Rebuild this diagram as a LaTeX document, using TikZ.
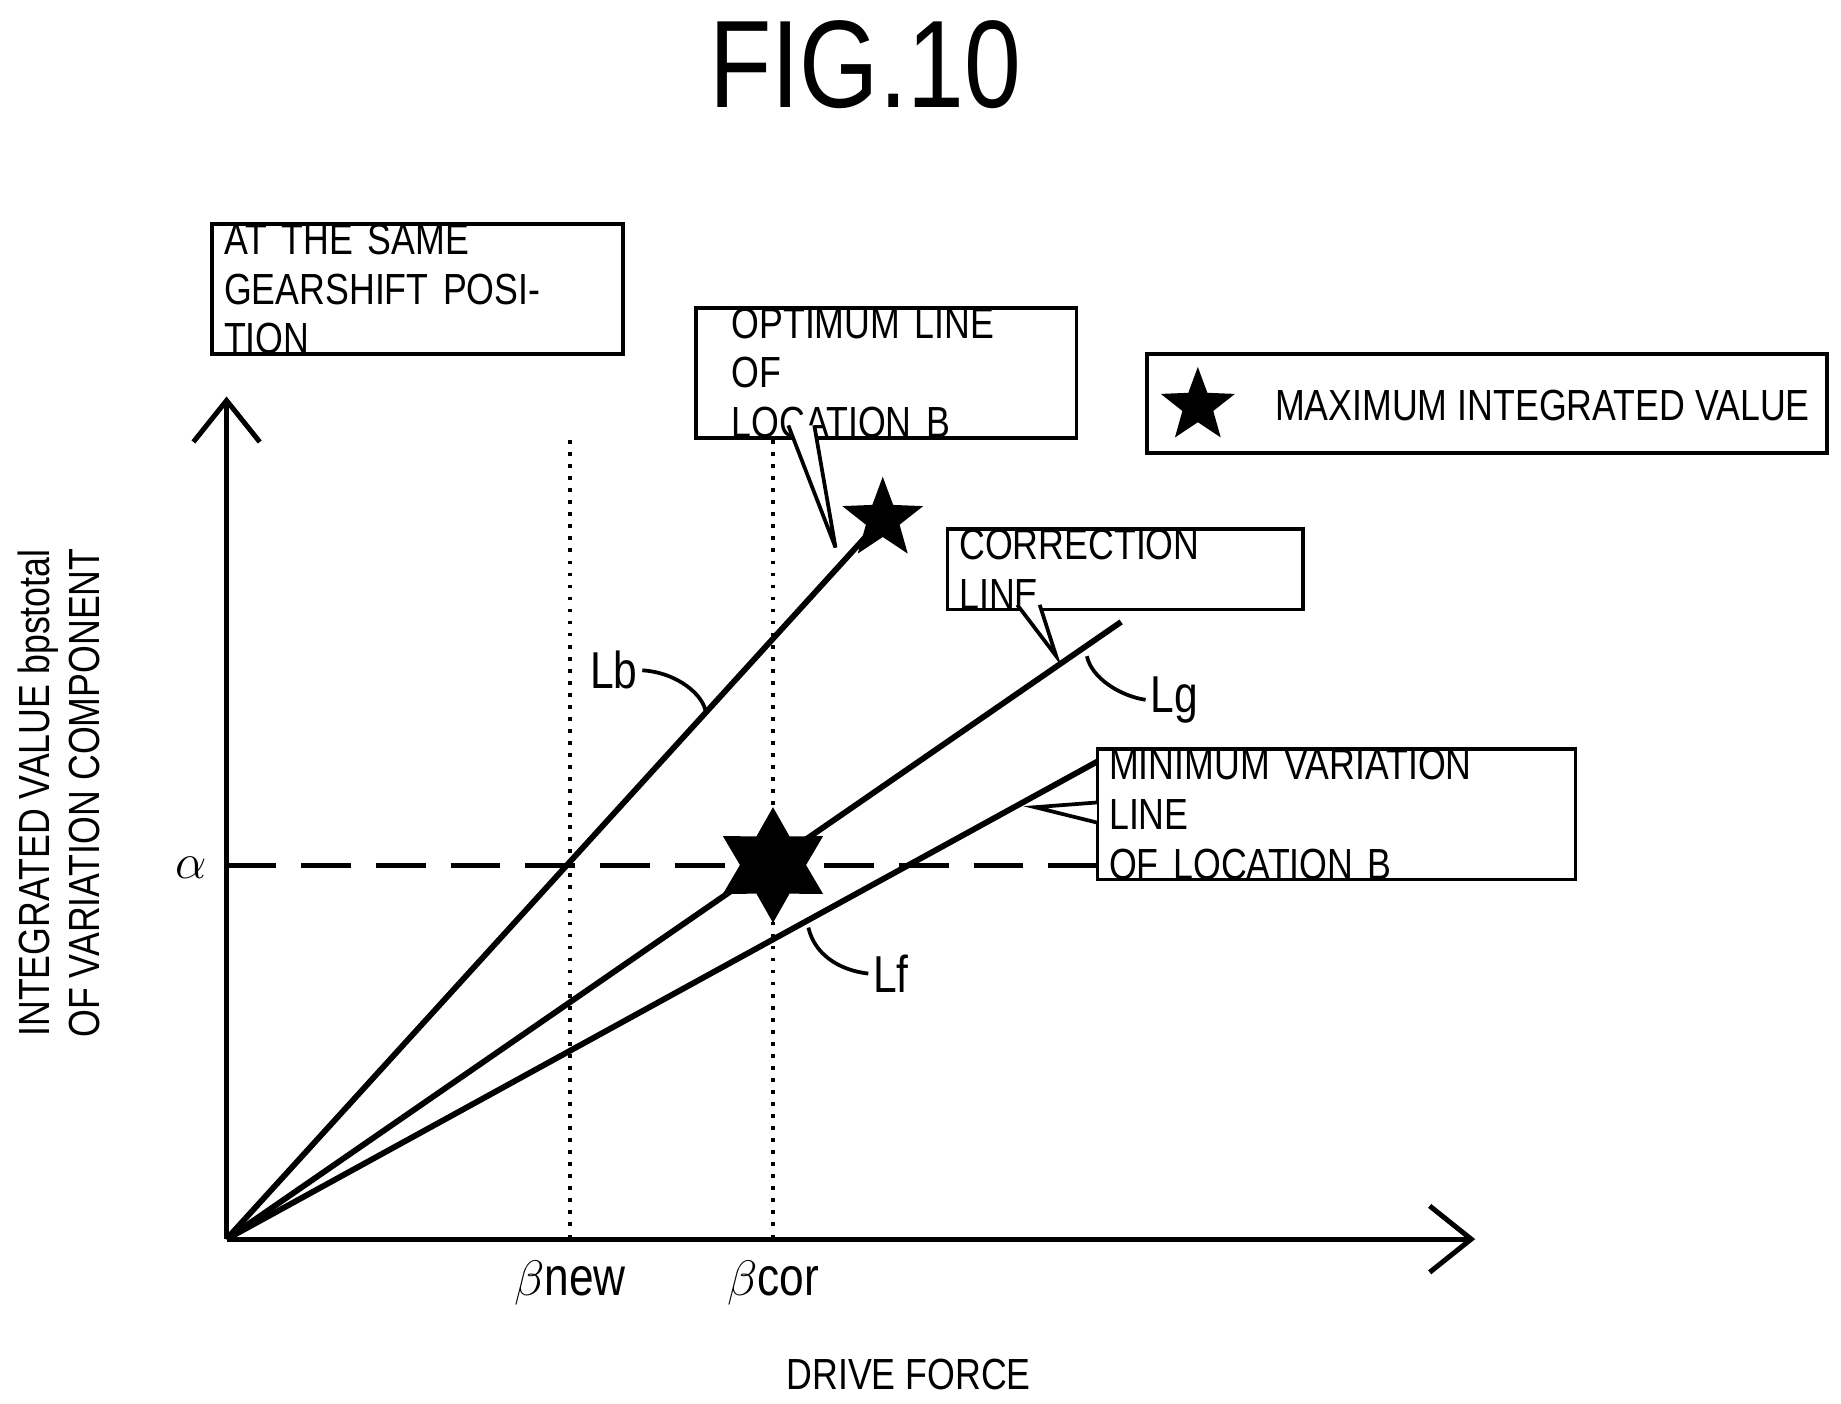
\documentclass[tikz,border=0pt]{standalone}
\usepackage{fontspec}
\setmainfont[FakeStretch=0.82]{Liberation Sans}
\usetikzlibrary{shapes.geometric,arrows.meta}

\begin{document}
\begin{tikzpicture}[x=0.01cm,y=-0.01cm,font=\fontsize{10.5}{12}\selectfont]
    \tikzstyle{callbox} = [rectangle, draw, line width=0.9pt, align=left, inner ysep=0pt, fill=white]
    \tikzstyle{curve} = [line width=1.4pt]
    \tikzstyle{tag} = [inner sep=1pt, font=\fontsize{12.5}{14}\selectfont]

    \useasboundingbox (0,0) rectangle (1560,1189);

    % Title
    \node (title) at (733,55) {\fontsize{30}{32}\selectfont FIG.10};

    % Axes
    \coordinate (O) at (192,1050);
    \draw[line width=1.2pt, -{Straight Barb[length=10pt,width=16pt]}] (O) -- (1250,1050);
    \draw[line width=1.2pt, -{Straight Barb[length=10pt,width=16pt]}] (O) -- (192,336);

    % Guides
    \draw[dotted, line width=0.9pt] (483,373) -- (483,1050);
    \draw[dotted, line width=0.9pt] (655,373) -- (655,1050);
    \draw[dashed, dash pattern=on 12pt off 6pt, line width=1.2pt] (O |- 0,733) -- (1097,733);

    % Lines
    \coordinate (LbEnd) at (738,450);
    \coordinate (LgEnd) at (950,527);
    \coordinate (LfEnd) at (945,637);
    \draw[curve] (O) -- (LbEnd);
    \draw[curve] (O) -- (LgEnd);
    \draw[curve] (O) -- (LfEnd);

    % Stars
    \node[star, star points=5, star point ratio=2.4, fill=black, minimum size=0.72cm, inner sep=0pt] (maxstar) at (748,440) {};
    \node[star, star points=6, star point ratio=1.75, fill=black, minimum size=0.98cm, inner sep=0pt] (corstar) at (655,733) {};

    % Line labels
    \node[tag] (Lb) at (520,568) {Lb};
    \draw[line width=0.9pt] (Lb.east) .. controls (575,570) and (597,590) .. (598,604);
    \node[tag] (Lg) at (995,593) {Lg};
    \draw[line width=0.9pt] (Lg.west) .. controls (950,590) and (925,575) .. (921,556);
    \node[tag] (Lf) at (755,825) {Lf};
    \draw[line width=0.9pt] (Lf.west) .. controls (710,822) and (690,808) .. (685,786);

    % Axis labels
    \node (alpha) at (162,735) {\fontsize{13}{14}\selectfont$\alpha$};
    \node (bnew) at (483,1087) {\fontsize{13}{14}\selectfont$\beta$new};
    \node (bcor) at (655,1087) {\fontsize{13}{14}\selectfont$\beta$cor};
    \node (xlabel) at (770,1165) {DRIVE FORCE};
    \node[rotate=90, align=center] (ylabel) at (50,672) {INTEGRATED VALUE bpstotal\\OF VARIATION COMPONENT};

    % Boxes
    \node[callbox, minimum width=3.48cm, text width=3.28cm, inner xsep=0.1cm, minimum height=0.76cm] (same) at (354,245)
        {AT THE SAME\\GEARSHIFT POSITION};
    \node[callbox, minimum width=3.22cm, text width=2.62cm, inner xsep=0.3cm, minimum height=0.88cm] (optbox) at (751,316)
        {OPTIMUM LINE OF\\LOCATION B};
    \draw[fill=white, line width=0.9pt] (668,360.5) -- (708,464) -- (690,360.5);
    \node[callbox, minimum width=3.01cm, text width=2.81cm, inner xsep=0.1cm, minimum height=0.59cm] (corbox) at (953.5,482.5)
        {CORRECTION LINE};
    \draw[fill=white, line width=0.9pt] (862,512.5) -- (895,556) -- (881,512.5);
    \node[callbox, minimum width=4.05cm, text width=3.85cm, inner xsep=0.1cm, minimum height=0.70cm] (minbox) at (1132.5,690)
        {MINIMUM VARIATION LINE\\OF LOCATION B};
    \draw[fill=white, line width=0.9pt] (929.5,680) -- (877,684) -- (929.5,697);
    \node[callbox, minimum width=5.76cm, minimum height=0.84cm] (maxbox) at (1260,342) {};
    \node[star, star points=5, star point ratio=2.4, fill=black, minimum size=0.66cm, inner sep=0pt] (keystar) at (1015,344) {};
    \node[anchor=west] (maxtext) at (1068,344) {MAXIMUM INTEGRATED VALUE};
\end{tikzpicture}
\end{document}
